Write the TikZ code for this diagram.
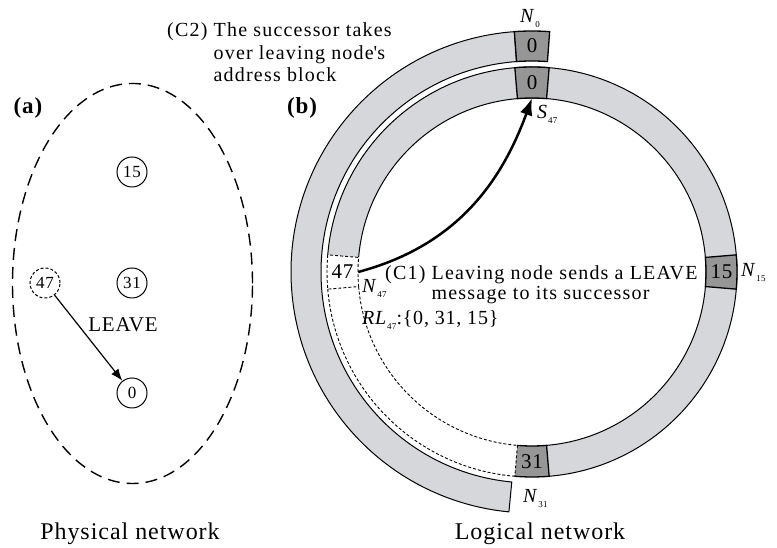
\documentclass[tikz,border=0pt]{standalone}
\usepackage{fontspec}
\setmainfont{Liberation Serif}[LetterSpace=4]
\usetikzlibrary{arrows.meta}
\definecolor{ringgray}{RGB}{214,215,218}
\definecolor{blkgray}{RGB}{150,150,150}
% annular piece: [options]{start angle}{end angle}{inner r}{outer r}
\newcommand{\ringpart}[5][]{%
  \path[#1] (#2:#5) arc[start angle=#2,end angle=#3,radius=#5]
    -- (#3:#4) arc[start angle=#3,end angle=#2,radius=#4] -- cycle;}
\newcommand{\nlab}[2]{\textit{#1}\raisebox{-0.45ex}{\fontsize{9}{9}\selectfont #2}}

\begin{document}
\begin{tikzpicture}[x=1pt,y=1pt,
    pn/.style={circle,draw,line width=1pt,minimum size=30pt,inner sep=0pt,
      font=\fontsize{17}{17}\selectfont},
    blk/.style={minimum width=31pt,minimum height=31pt,inner sep=0pt,
      font=\fontsize{21}{21}\selectfont},
    lbl/.style={anchor=base west,inner sep=0pt,font=\fontsize{20}{20}\selectfont},
    note/.style={anchor=base west,inner sep=0pt},
    thindash/.style={line width=0.9pt,dash pattern=on 3pt off 2pt}]
    \useasboundingbox (0,0) rectangle (777,548);

    % (a) physical network
    \draw[line width=1.4pt,dash pattern=on 12pt off 7pt]
      (132.5,264.5) ellipse [x radius=120,y radius=200];
    \node[pn] (p15) at (132,376) {15};
    \node[pn] (p31) at (132,265) {31};
    \node[pn,dash pattern=on 3pt off 2pt] (p47) at (45,265) {47};
    \node[pn] (p0) at (132,155) {0};
    \draw[line width=1.2pt,-{Latex[length=12pt,width=9pt]}] (p47) -- (p0);
    \node[font=\fontsize{21}{21}\selectfont] (leave) at (123,223) {LEAVE};

    % (b) logical network
    \begin{scope}[shift={(532,276)}]
      % old ring of the leaving node
      \ringpart[fill=ringgray,draw,line width=1pt]{94.2}{264.5}{211}{241}
      \ringpart[fill=blkgray,draw,line width=1.3pt]{85.8}{94.2}{211}{241}
      % ring of the successor
      \ringpart[fill=ringgray]{-85.2}{175.2}{174}{205}
      \draw[line width=1pt] (-85.2:205) arc[start angle=-85.2,end angle=175.2,radius=205];
      \draw[line width=1pt] (-85.2:174) arc[start angle=-85.2,end angle=175.2,radius=174];
      \draw[thindash] (184.8:205) arc[start angle=184.8,end angle=265.2,radius=205];
      \draw[thindash] (184.8:174) arc[start angle=184.8,end angle=265.2,radius=174];
      % address blocks
      \foreach \a in {0,90}
        \ringpart[fill=blkgray,draw,line width=1.3pt]{\a-4.8}{\a+4.8}{174}{205};
      \ringpart[fill=blkgray]{265.2}{274.8}{174}{205}
      \draw[line width=1.3pt] (265.2:205) arc[start angle=265.2,end angle=274.8,radius=205]
        -- (274.8:174) arc[start angle=274.8,end angle=265.2,radius=174];
      \draw[thindash] (265.2:174) -- (265.2:205);
      \ringpart[fill=white,draw,thindash]{175.2}{184.8}{174}{205}
      \node[blk] (n0) at (90:226) {0};
      \node[blk] (s0) at (90:189.5) {0};
      \node[blk] (n15) at (0:189.5) {15};
      \node[blk] (n31) at (270:189.5) {31};
      \node[blk] (n47) at (180:189.5) {47};
    \end{scope}
    \draw[line width=2.5pt,-{Latex[length=17pt,width=13pt]}]
      (n47.east) to[out=15,in=-110] (s0.south);

    % labels
    \node[lbl] (lN0) at (520,525) {\nlab{N}{0}};
    \node[lbl] (lS47) at (537,429) {\nlab{S}{47}};
    \node[lbl] (lN15) at (741,271) {\nlab{N}{15}};
    \node[lbl] (lN31) at (523,45) {\nlab{N}{31}};
    \node[lbl] (lN47) at (362,255) {\nlab{N}{47}};
    \node[lbl] (lRL) at (362,223) {\nlab{RL}{47}:\{0, 31, 15\}};
    \node[note,font=\fontsize{20}{20}\selectfont\addfontfeature{LetterSpace=6}] (c1) at (385,268)
      {\begin{tabular}[t]{@{}l@{ }l@{}}(C1)&Leaving node sends a LEAVE\\&message to its successor\end{tabular}};
    \node[note,font=\fontsize{20}{22.5}\selectfont\addfontfeature{LetterSpace=6}] (c2) at (167,511)
      {\begin{tabular}[t]{@{}l@{ }l@{}}(C2)&The successor takes\\&over leaving node\textquotesingle s\\&address block\end{tabular}};
    \node[font=\fontsize{23}{23}\selectfont\bfseries] (la) at (28,440) {(a)};
    \node[font=\fontsize{23}{23}\selectfont\bfseries] (lb) at (302,440) {(b)};
    \node[anchor=base,font=\fontsize{24}{24}\selectfont] (cap1) at (130,8) {Physical network};
    \node[anchor=base,font=\fontsize{24}{24}\selectfont] (cap2) at (540,8) {Logical network};
\end{tikzpicture}
\end{document}
